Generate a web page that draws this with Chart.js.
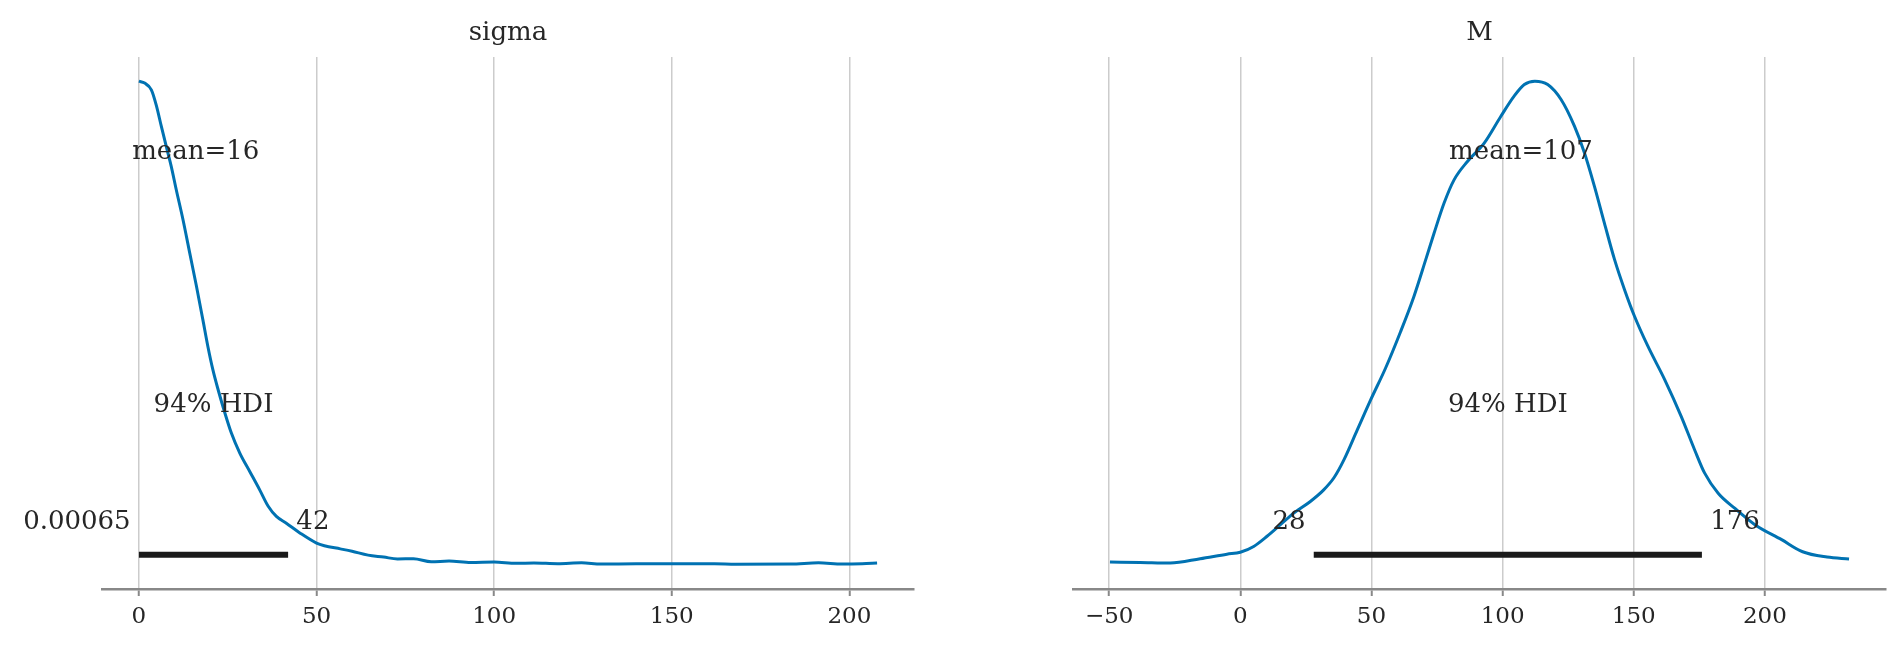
<!DOCTYPE html>
<html><head><meta charset="utf-8">
<script src="https://cdn.jsdelivr.net/npm/chart.js@4.4.0/dist/chart.umd.min.js"></script>
<style>
html,body{margin:0;padding:0;background:#fff;width:1904px;height:650px;overflow:hidden}
.panel{position:absolute;top:0;width:952px;height:650px}
</style></head><body>
<div class="panel" style="left:0"><canvas id="c1" width="952" height="650"></canvas></div>
<div class="panel" style="left:952px"><canvas id="c2" width="952" height="650"></canvas></div>
<script>
// ---- data (density normalised to peak = 1) ----
const sigmaX = [0,1.6,3.5,4.9,6.3,7.7,9.1,10.5,12.4,14.3,16.2,18.0,19.4,20.8,22.3,24.2,26.0,28.4,31.2,34.0,36.4,38.7,41.5,45.3,50.0,52.2,56.7,60,64.5,68.9,72.8,77.3,82.3,87.3,93.4,100,106.2,111.2,117.9,124.6,130.1,140,150,162,168,183.5,191.3,198,203.6,207.8];
const sigmaDensity = [1.000,0.996,0.982,0.950,0.907,0.865,0.824,0.776,0.714,0.645,0.576,0.507,0.452,0.404,0.362,0.314,0.273,0.231,0.193,0.155,0.121,0.100,0.086,0.066,0.045,0.0395,0.033,0.028,0.020,0.016,0.012,0.0126,0.0064,0.0078,0.005,0.0058,0.003,0.0037,0.0023,0.0043,0.0016,0.002,0.002,0.002,0.0013,0.0016,0.0043,0.0016,0.0023,0.0037];
const mX = [-49.7,-38.2,-26.7,-15.3,-5.1,0,5.1,10.2,15.3,20.4,26.7,31.8,35.7,39.5,44.6,49.7,55.4,61.1,66.2,70.7,73.9,77.7,81.5,86.6,93.0,99.3,104.4,108.3,112.3,117.2,122.3,127.4,131.2,135.0,138.8,142.7,146.5,150.3,155.4,161.8,168.1,173.2,177.0,182.2,188.5,196.2,206.4,214.4,223.7,232.1];
const mDensity = [0.0058,0.005,0.0037,0.0126,0.022,0.026,0.038,0.059,0.083,0.107,0.131,0.155,0.180,0.217,0.279,0.341,0.407,0.482,0.555,0.631,0.686,0.748,0.796,0.834,0.872,0.927,0.969,0.993,1.000,0.993,0.962,0.907,0.852,0.783,0.707,0.631,0.569,0.514,0.452,0.383,0.307,0.238,0.190,0.148,0.117,0.083,0.052,0.027,0.016,0.012];

const titles = ['sigma', 'M'];
const means = [16, 107];
const meanLabels = ['mean=16', 'mean=107'];
const hdiLow = [0.00065, 28];
const hdiHigh = [42, 176];
const hdiLowLabels = ['0.00065', '28'];
const hdiHighLabels = ['42', '176'];
const hdiLabel = '94% HDI';
const sigmaTicks = [0, 50, 100, 150, 200];
const sigmaTickLabels = ['0', '50', '100', '150', '200'];
const mTicks = [-50, 0, 50, 100, 150, 200];
const mTickLabels = ['\u221250', '0', '50', '100', '150', '200'];

const FONT = "'DejaVu Serif', 'Liberation Serif', serif";
const TEXT = '#262626';

function makeChart(id, xs, ys, ticks, tickLabels, idx, padL, padR) {
  const span = xs[xs.length - 1] - xs[0];
  const xmin = xs[0] - 0.05 * span, xmax = xs[xs.length - 1] + 0.05 * span;
  const ymax = Math.max(...ys);
  const plotH = ymax * 1.05;
  const annot = {
    id: 'annot' + idx,
    afterDatasetsDraw(chart) {
      const ctx = chart.ctx, a = chart.chartArea;
      const X = chart.scales.x, Y = chart.scales.y;
      ctx.save();
      ctx.fillStyle = TEXT;
      ctx.font = '26px ' + FONT;
      ctx.textAlign = 'center';
      ctx.textBaseline = 'middle';
      ctx.fillText(titles[idx], (a.left + a.right) / 2, 33);
      ctx.textBaseline = 'alphabetic';
      ctx.fillText(meanLabels[idx], X.getPixelForValue(means[idx]), Y.getPixelForValue(plotH * 0.8));
      ctx.fillText(hdiLabel, X.getPixelForValue((hdiLow[idx] + hdiHigh[idx]) / 2), Y.getPixelForValue(plotH * 0.3));
      ctx.textAlign = 'right';
      ctx.fillText(hdiLowLabels[idx] + ' ', X.getPixelForValue(hdiLow[idx]), Y.getPixelForValue(plotH * 0.07));
      ctx.textAlign = 'left';
      ctx.fillText(' ' + hdiHighLabels[idx], X.getPixelForValue(hdiHigh[idx]), Y.getPixelForValue(plotH * 0.07));
      ctx.restore();
    }
  };
  return new Chart(document.getElementById(id), {
    type: 'line',
    data: {
      datasets: [
        { data: xs.map((x, i) => ({ x, y: ys[i] })), borderColor: '#0072B2', borderWidth: 3,
          pointRadius: 0, cubicInterpolationMode: 'monotone', fill: false },
        { data: [{ x: hdiLow[idx], y: plotH * 0.02 }, { x: hdiHigh[idx], y: plotH * 0.02 }],
          borderColor: '#1a1a1a', borderWidth: 6, borderCapStyle: 'butt', pointRadius: 0, fill: false }
      ]
    },
    options: {
      responsive: false, animation: false,
      layout: { padding: { left: padL, right: padR, top: 57, bottom: 0 } },
      plugins: { legend: { display: false }, tooltip: { enabled: false } },
      scales: {
        x: {
          type: 'linear', min: xmin, max: xmax,
          afterBuildTicks: s => { s.ticks = ticks.map(v => ({ value: v })); },
          afterFit: s => { s.height = 61; },
          ticks: { autoSkip: false, maxRotation: 0, padding: 7, color: TEXT,
                   font: { family: FONT, size: 23 },
                   callback: v => tickLabels[ticks.indexOf(v)] },
          grid: { color: '#cccccc', lineWidth: 1.5, drawTicks: true, tickLength: 7, tickColor: '#888888', tickWidth: 2 },
          border: { color: '#888888', width: 2.5 }
        },
        y: { display: false, min: -0.05 * ymax, max: 1.05 * ymax }
      }
    },
    plugins: [annot]
  });
}

makeChart('c1', sigmaX, sigmaDensity, sigmaTicks, sigmaTickLabels, 0, 102, 38);
makeChart('c2', mX, mDensity, mTicks, mTickLabels, 1, 121, 18);
</script>
</body></html>
